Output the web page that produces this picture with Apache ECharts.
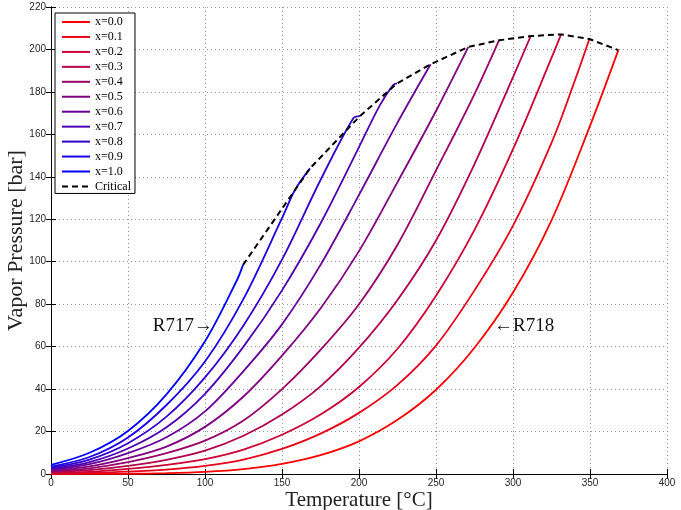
<!DOCTYPE html>
<html>
<head>
<meta charset="utf-8">
<script src="https://cdn.jsdelivr.net/npm/echarts@6/dist/echarts.min.js"></script>
<style>
  html, body { margin: 0; padding: 0; background: #fff; }
  #app { width: 681px; height: 510px; }
</style>
</head>
<body>
<div id="app"></div>
<script>
// ammonia mass fraction labels
const names = ['x=0.0', 'x=0.1', 'x=0.2', 'x=0.3', 'x=0.4', 'x=0.5', 'x=0.6', 'x=0.7', 'x=0.8', 'x=0.9', 'x=1.0'];
const colors = ['#ff0000', '#e6001a', '#cc0033', '#b3004d', '#990066', '#800080', '#660099', '#4d00b3', '#3300cc', '#1a00e6', '#0000ff'];

// [temperature degC, pressure bar]
const x00 = [[0, 0.01], [25, 0.03], [50, 0.12], [75, 0.39], [100, 1.0], [125, 2.3], [150, 4.8], [175, 8.9], [200, 15.4], [225, 25.5], [250, 39.7], [275, 59.5], [300, 85.5], [325, 119.5], [350, 164], [368.4, 199.7]];
const x01 = [[0, 0.2], [25, 0.5], [50, 1.1], [75, 2.1], [100, 3.8], [125, 6.8], [150, 11.8], [175, 19], [200, 28.8], [225, 42], [250, 60.5], [275, 86.5], [300, 117], [325, 156], [340, 185], [349.6, 204.9]];
const x02 = [[0, 0.4], [25, 1.0], [50, 2.4], [75, 4.3], [100, 7.0], [125, 11.5], [150, 18.5], [175, 28], [200, 41], [225, 59], [250, 84], [275, 115], [300, 153], [325, 196], [331.2, 207.1]];
const x03 = [[0, 0.8], [25, 1.8], [50, 3.8], [75, 6.7], [100, 11], [125, 18], [150, 28], [175, 41.3], [200, 59.5], [225, 82], [250, 110], [275, 146], [300, 187], [311.5, 206.3]];
const x04 = [[0, 1.2], [25, 2.7], [50, 5.6], [75, 9.8], [100, 15.7], [125, 25.2], [150, 40], [175, 58.5], [200, 80], [225, 108], [250, 143], [275, 179], [290.9, 204.3]];
const x05 = [[0, 1.6], [25, 3.6], [50, 7.5], [75, 12.9], [100, 22.2], [125, 36.5], [150, 55.8], [175, 78], [200, 105], [225, 137.5], [250, 171], [271, 201.2]];
const x06 = [[0, 2.0], [25, 4.6], [50, 9.8], [75, 17.3], [100, 29.5], [125, 48.5], [150, 70.5], [175, 98.5], [200, 131.5], [225, 165.5], [246.5, 193]];
const x07 = [[0, 2.5], [25, 5.6], [50, 12], [75, 22], [100, 37.8], [125, 60], [150, 86.5], [175, 118], [200, 154], [213.6, 173.8], [222.3, 183.3], [224.7, 184]];
const x08 = [[0, 3.0], [25, 6.8], [50, 14.5], [75, 27], [100, 45.5], [125, 70], [150, 101], [175, 138.5], [196.3, 167.6], [200.6, 168.6]];
const x09 = [[0, 3.5], [25, 8], [50, 17.2], [75, 32.5], [100, 53], [125, 82.5], [150, 120.5], [158.4, 133.8], [168.2, 144]];
const x10 = [[0, 4.3], [25, 10], [50, 20.3], [75, 37.5], [100, 62.5], [120.8, 91.4], [124.7, 98.5]];
const critical = [[124.7, 98.5], [168.2, 144], [200.6, 168.6], [224.7, 184], [246.5, 193], [271, 201.2], [290.9, 204.3], [311.5, 206.3], [331.2, 207.1], [349.6, 204.9], [368.4, 199.7]];

const curves = [x00, x01, x02, x03, x04, x05, x06, x07, x08, x09, x10];

// annotation anchors
const r717At = [105.2, 69.7];
const r718At = [287.7, 69.7];

const serif = '"Liberation Serif", "DejaVu Serif", serif';
const sans = '"Liberation Sans", Arial, sans-serif';

var myChart = echarts.init(document.getElementById('app'));

const series = curves.map((c, i) => ({
  name: names[i],
  type: 'line',
  data: c,
  smooth: 0.33,
  symbol: 'none',
  lineStyle: { color: colors[i], width: 1.8 },
  itemStyle: { color: colors[i] },
  z: 2
}));
series.push({
  name: 'Critical',
  type: 'line',
  data: critical,
  symbol: 'none',
  lineStyle: { color: '#000', width: 2, type: [6, 4] },
  itemStyle: { color: '#000' },
  z: 3
});

const frameAxis = {
  axisLine: { show: true, lineStyle: { color: '#000', width: 1 } },
  axisTick: { show: true, inside: true, length: 5, lineStyle: { color: '#000' } },
  axisLabel: { show: false },
  splitLine: { show: false }
};

let option = {
  animation: false,
  grid: { left: 51, right: 14, top: 7, bottom: 36, containLabel: false, outerBoundsMode: 'none' },
  legend: {
    orient: 'vertical',
    left: 55,
    top: 13,
    padding: [3, 4, 1, 6],
    itemWidth: 28,
    itemHeight: 12,
    itemGap: 2.95,
    backgroundColor: '#fff',
    borderColor: '#000',
    borderWidth: 1,
    borderRadius: 0,
    itemStyle: { opacity: 0 },
    textStyle: { fontFamily: serif, fontSize: 12, color: '#000' },
    data: names.concat(['Critical'])
  },
  xAxis: [
    {
      type: 'value',
      min: 0,
      max: 400,
      interval: 50,
      name: 'Temperature [°C]',
      nameLocation: 'middle',
      nameGap: 16,
      nameMoveOverlap: false,
      nameTextStyle: { fontFamily: serif, fontSize: 21, color: '#222', verticalAlign: 'top' },
      axisLine: { show: true, lineStyle: { color: '#000', width: 1 } },
      axisTick: { show: true, inside: true, length: 5, lineStyle: { color: '#000' } },
      axisLabel: { color: '#262626', fontFamily: sans, fontSize: 10, margin: 4 },
      splitLine: { show: true, lineStyle: { color: '#999', type: [1, 3], width: 1 } }
    },
    Object.assign({ type: 'value', position: 'top', min: 0, max: 400, interval: 50 }, frameAxis)
  ],
  yAxis: [
    {
      type: 'value',
      min: 0,
      max: 220,
      interval: 20,
      name: 'Vapor Pressure [bar]',
      nameLocation: 'middle',
      nameGap: 24,
      nameMoveOverlap: false,
      nameTextStyle: { fontFamily: serif, fontSize: 22, color: '#222' },
      axisLine: { show: true, lineStyle: { color: '#000', width: 1 } },
      axisTick: { show: true, inside: true, length: 5, lineStyle: { color: '#000' } },
      axisLabel: { color: '#262626', fontFamily: sans, fontSize: 10, margin: 5 },
      splitLine: { show: true, lineStyle: { color: '#999', type: [1, 3], width: 1 } }
    },
    Object.assign({ type: 'value', position: 'right', min: 0, max: 220, interval: 20 }, frameAxis)
  ],
  series: series
};

myChart.setOption(option);

const a = myChart.convertToPixel({ gridIndex: 0 }, r717At);
const b = myChart.convertToPixel({ gridIndex: 0 }, r718At);
myChart.setOption({
  graphic: [
    { type: 'text', x: a[0], y: a[1], z: 10, style: { text: 'R717→', font: '19px ' + serif, fill: '#111', align: 'right', verticalAlign: 'middle' } },
    { type: 'text', x: b[0], y: b[1], z: 10, style: { text: '←R718', font: '19px ' + serif, fill: '#111', align: 'left', verticalAlign: 'middle' } }
  ]
});
</script>
</body>
</html>
